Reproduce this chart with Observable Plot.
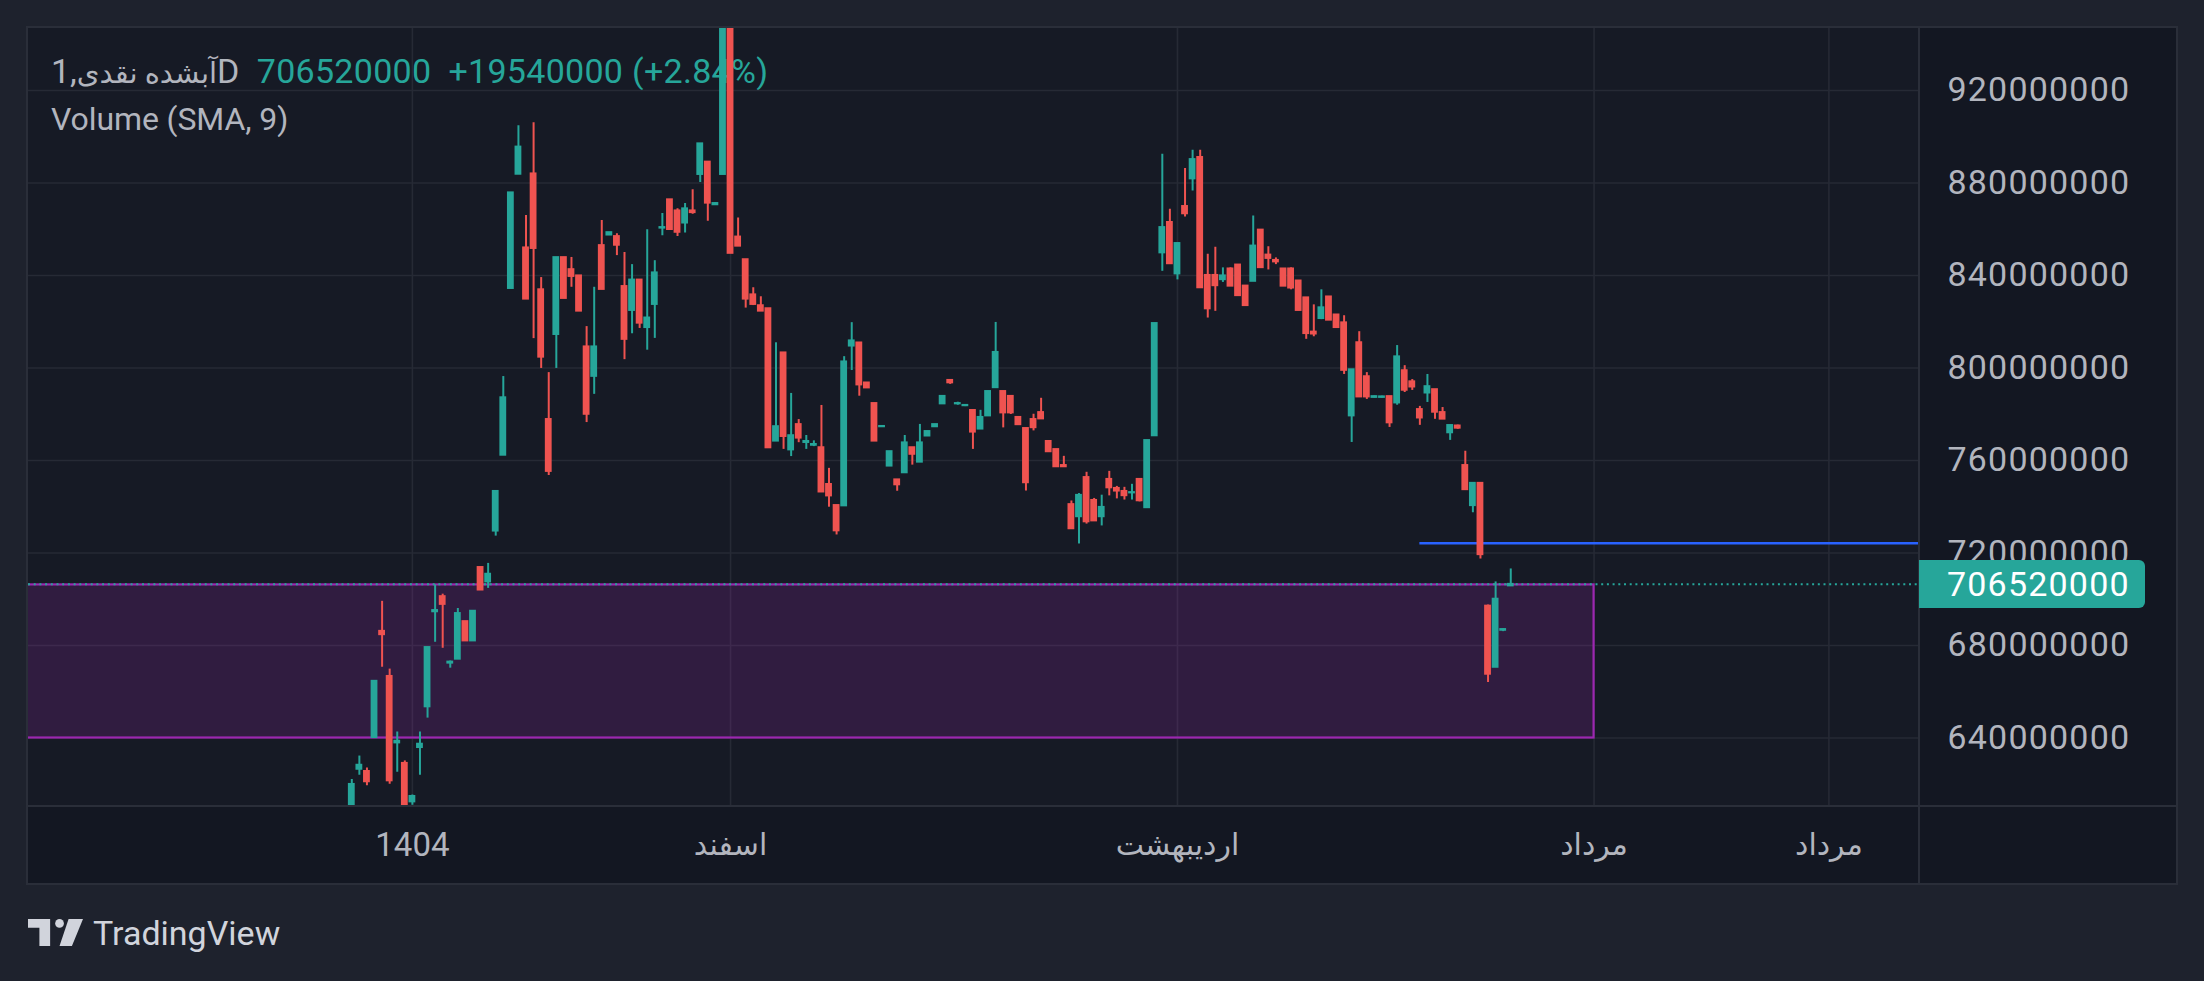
<!DOCTYPE html>
<html>
<head>
<meta charset="utf-8">
<script src="https://cdn.jsdelivr.net/npm/d3@7"></script>
<script src="https://cdn.jsdelivr.net/npm/@observablehq/plot@0.6"></script>
<style>
  html, body { margin:0; padding:0; width:2204px; height:981px; overflow:hidden; background:#1e222d; font-family: Roboto, "DejaVu Sans", sans-serif; }
  #chart { position:absolute; left:28px; top:28px; width:2148px; height:855px; background:#131722; outline:2px solid #2a2e39; }
  #plotbg { position:absolute; left:0; top:0; width:1891px; height:777.5px; background:#161a25; }
  .hdr { position:absolute; left:23px; font-size:34px; line-height:34px; white-space:nowrap; color:#b2b5be; letter-spacing:0.3px; }
  .fa { font-size:29px; letter-spacing:0; }
  .teal { color:#26a69a; }
  #chart svg { position:absolute; left:0; top:0; overflow:visible; }
  #chart svg g[aria-label="y-axis tick label"] text { letter-spacing:1.2px; }
  .sep { position:absolute; background:#2a2e39; }
  #pricelabel { position:absolute; left:1891px; width:226px; height:48px; line-height:48px; background:#26a69a; color:#ffffff; font-size:34px; letter-spacing:1.2px; padding-left:28px; box-sizing:border-box; border-radius:0 6px 6px 0; }
  #logo { position:absolute; left:28px; top:915px; height:34px; display:flex; align-items:center; color:#d1d4dc; font-size:34px; }
</style>
</head>
<body>
<div id="chart">
  <div id="plotbg"></div>
  <div class="hdr" style="top:26px"><bdi dir="rtl"><span class="fa">آبشده نقدی</span>,1</bdi>D<span class="teal" style="margin-left:17px">706520000</span><span class="teal" style="margin-left:17px">+19540000 (+2.84%)</span></div>
  <div class="hdr" style="top:74px;font-size:32px;letter-spacing:-0.1px">Volume (SMA, 9)</div>
</div>
<div id="logo">
  <svg width="55" height="27" viewBox="0 0 164 80" style="margin-right:10px"><path fill="#d1d4dc" d="M0 0H66V80H34V26H0Z"/><circle fill="#d1d4dc" cx="94" cy="13" r="13"/><path fill="#d1d4dc" d="M121 0H164L131 80H94Z"/></svg>
  <span style="position:relative;top:1px">TradingView</span>
</div>
<script>
// ---- data (values in millions) ----
const opens = [605,626.4,625.6,640.1,686.2,666.7,637.8,629.1,612.3,635.8,
653.4,694.5,701.2,672.3,674.0,690.4,681.9,713.8,707.4,729.4,
762.2,834.3,883.7,852.0,884.0,833.9,777.8,814.4,847.8,842.6,
839.9,809.2,796.3,853.0,857.4,856.9,835.3,824.8,838.1,817.4,
827.4,860.4,872.8,868.0,862.6,868.0,883.6,889.1,870.5,883.6,
950,856.7,846.9,831.7,827.0,825.7,768.3,806.6,764.5,775.6,
767.7,766.5,765.6,749.7,740.6,740.3,809.4,810.9,793.6,784.7,
774.5,757.5,751.7,754.6,765.6,759.2,770.5,774.5,784.4,794.7,
784.4,783.6,781.7,773.5,779.2,791.4,789.9,787.8,778.7,773.9,
777.8,780.8,768.3,764.8,757.9,741.0,735.6,752.7,742.8,735.6,
751.9,748.0,746.7,745.9,751.9,739.5,770.6,849.7,863.0,840.6,
869.9,881.7,891.1,840.1,840.1,838.1,842.9,844.6,835.5,837.4,
859.7,848.9,846.6,842.9,842.9,837.7,830.4,815.6,821.3,830.8,
823.0,819.6,779.2,811.0,796.3,787.2,787.2,787.7,784.8,798.9,
794.1,782.1,789.1,790.7,780.8,771.9,775.0,757.9,740.4,750.2,
697.1,670.5,686.5,705.7];
const highs = [622.1,632.2,627.0,664.6,699.1,669.8,642.6,630.1,615.4,642.6,
679.2,706.2,702.2,673.3,696.0,690.4,694.9,713.8,715.5,746.7,
796.3,875.8,904.7,865.9,906.0,839.1,798.0,847.8,847.8,847.8,
839.9,817.9,834.9,863.8,858.6,858.0,849.9,844.7,838.1,859.8,
846.4,866.8,872.8,868.9,871.1,877.1,897.0,889.1,871.5,955,
955,864.9,846.9,834.7,830.8,825.7,810.9,806.6,789.0,777.7,
770.8,768.5,783.8,756.6,740.6,804.9,819.6,810.9,793.6,784.7,
775.0,763.9,751.7,770.8,765.6,775.6,772.6,775.6,787.8,794.7,
785.2,784.2,781.7,781.7,789.9,819.7,789.9,787.8,778.7,773.9,
780.0,786.9,768.3,764.8,761.8,742.5,745.7,754.9,743.6,745.0,
755.3,748.8,748.4,749.7,751.9,768.7,819.3,892.4,868.6,853.9,
886.3,894.1,894.1,849.2,852.2,843.3,843.3,844.6,835.5,865.7,
859.7,852.4,847.6,842.9,843.3,837.7,830.4,827.3,833.8,830.8,
823.0,822.6,799.3,815.7,798.0,787.9,787.8,787.7,809.7,801.0,
795.0,783.4,797.2,790.7,782.9,775.2,775.3,764.0,750.2,750.2,
697.5,707.5,687.2,713.1];
const lows = [600,623.9,619.4,640.1,670.6,620.0,625.2,600,610.9,623.9,
648.6,681.4,678.8,670.2,674.0,681.9,681.9,703.9,704.7,727.3,
762.2,834.3,883.7,829.7,812.7,799.8,753.5,799.8,830.0,834.9,
824.5,776.4,788.6,833.9,857.4,848.6,803.6,814.8,817.1,807.7,
812.8,857.2,859.4,856.9,858.4,866.5,880.2,863.4,870.3,883.6,
849.5,852.6,825.9,827.0,824.5,765.4,768.3,764.8,761.7,767.7,
764.8,766.0,746.3,739.8,727.8,740.3,798.9,787.8,791.3,768.3,
774.3,757.5,746.7,754.6,758.0,759.2,770.5,774.5,784.4,792.9,
783.9,783.3,764.8,773.5,779.2,791.4,774.1,779.9,775.4,746.8,
772.8,777.9,763.7,757.2,757.2,730.4,723.9,732.5,733.8,731.7,
744.7,743.4,742.9,742.9,742.1,739.5,770.6,841.8,845.0,838.1,
865.3,876.5,834.6,821.6,824.5,837.0,835.3,831.2,826.9,837.4,
843.3,842.4,844.7,835.3,833.8,824.8,812.4,813.5,820.9,820.6,
817.4,797.2,767.8,787.4,786.4,787.0,787.0,774.3,783.9,789.4,
790.3,775.2,785.1,777.8,777.8,768.7,773.5,747.3,737.4,717.4,
664.0,670.5,686.0,705.5];
const closes = [620.0,628.3,621.0,664.6,684.6,621.4,638.7,605,614.8,637.4,
679.2,695.2,697.7,672.9,693.9,681.9,694.9,703.9,710.9,746.7,
787.2,875.8,895.6,829.7,851.6,804.6,755.2,847.8,830.0,839.5,
824.5,779.9,809.2,833.9,858.6,853.0,812.3,838.1,819.3,821.7,
841.2,860.8,859.8,858.6,868.9,867.1,897.0,871.2,871.2,950,
849.5,852.6,829.7,827.4,824.5,765.4,774.7,770.3,770.8,769.6,
768.3,767.0,746.3,744.6,729.5,802.7,811.8,792.6,791.3,768.3,
774.8,763.9,749.4,767.7,762.6,767.7,772.6,775.6,787.8,793.5,
784.7,783.9,772.2,778.7,789.9,806.8,780.5,780.5,775.4,750.3,
774.1,777.9,763.7,757.2,757.2,730.4,745.0,733.4,733.8,739.8,
748.1,746.7,744.7,746.2,742.5,768.7,819.3,860.8,845.0,853.9,
866.6,890.2,834.6,825.5,835.5,839.9,835.3,831.2,826.9,852.8,
843.3,847.3,845.8,835.3,834.5,824.8,814.8,814.6,826.1,820.6,
817.4,798.9,799.3,787.4,787.4,787.7,787.6,776.2,804.9,790.3,
791.7,778.3,792.0,780.8,777.8,775.2,773.9,747.3,750.2,719.2,
667.5,700.1,686.98,706.52];

const yTickValues = [640, 680, 720, 760, 800, 840, 880, 920];
const yTickLabels = ["640000000","680000000","720000000","760000000","800000000","840000000","880000000","920000000"];
const xTickValues = [8, 50, 109, 164, 195];
const xTickLabels = ["1404", "اسفند", "اردیبهشت", "مرداد", "مرداد"];
const xDomain = [-42.68, 206.96];
const yDomain = [610.6, 946.8];
const zoneX = [-60, 164];
const zoneY = [640, 706.2];
const blueLevel = [724.2];
const blueX = [141, 230];
const lastPrice = [706.52];
const lastPriceLabel = "706520000";

// ---- build ----
const M = 1e6;
const UP = "#26a69a", DOWN = "#ef5350";
const candles = opens.map((o, i) => ({i, o: o*M, h: highs[i]*M, l: lows[i]*M, c: closes[i]*M, col: closes[i] >= o ? UP : DOWN}));
const xTickObjs = xTickValues.map((v, k) => ({v, label: xTickLabels[k], latin: /^[0-9]+$/.test(xTickLabels[k])}));
const latinTicks = xTickObjs.filter(t => t.latin);
const persianTicks = xTickObjs.filter(t => !t.latin);

const plot = Plot.plot({
  width: 2148,
  height: 855,
  marginLeft: 0,
  marginTop: 0,
  marginRight: 257,
  marginBottom: 77.5,
  style: {background: "transparent", fontFamily: "Roboto, 'DejaVu Sans', sans-serif", overflow: "visible"},
  x: {type: "linear", domain: xDomain, label: null},
  y: {domain: yDomain.map(v => v*M), label: null},
  color: {type: "identity"},
  marks: [
    Plot.gridY(yTickValues.map(v => v*M), {stroke: "#262a35", strokeOpacity: 1, strokeWidth: 1.6}),
    Plot.gridX(xTickValues, {stroke: "#262a35", strokeOpacity: 1, strokeWidth: 1.6}),
    Plot.rect([0], {x1: () => zoneX[0], x2: () => zoneX[1], y1: () => zoneY[0]*M, y2: () => zoneY[1]*M,
      fill: "#9c27b0", fillOpacity: 0.2, stroke: "#9c27b0", strokeWidth: 2.2, clip: true}),
    Plot.ruleY(lastPrice.map(v => v*M), {stroke: UP, strokeWidth: 2, strokeDasharray: "2 3.7", clip: true}),
    Plot.ruleY(blueLevel.map(v => v*M), {x1: blueX[0], x2: blueX[1], stroke: "#2962ff", strokeWidth: 2.5, clip: true}),
    Plot.ruleX(candles, {x: "i", y1: "l", y2: "h", stroke: "col", strokeWidth: 2, clip: true}),
    Plot.rect(candles, {x1: d => d.i - 0.45, x2: d => d.i + 0.45, y1: "o", y2: "c", fill: "col",
      insetTop: -0.8, insetBottom: -0.8, clip: true}),
    Plot.axisY(yTickValues.map(v => v*M), {anchor: "right", tickSize: 0, tickPadding: 28, label: null,
      tickFormat: (d, i) => yTickLabels[i], fontSize: 34, fill: "#b2b5be"}),
    Plot.axisX(latinTicks.map(t => t.v), {anchor: "bottom", tickSize: 0, tickPadding: 27, label: null,
      tickFormat: (d, i) => latinTicks[i].label, fontSize: 33, fill: "#b2b5be"}),
    Plot.axisX(persianTicks.map(t => t.v), {anchor: "bottom", tickSize: 0, tickPadding: 28, label: null,
      tickFormat: (d, i) => persianTicks[i].label, fontSize: 30, fill: "#b2b5be"})
  ]
});
const chart = document.getElementById("chart");
chart.appendChild(plot);

// separators
const vsep = document.createElement("div");
vsep.className = "sep";
Object.assign(vsep.style, {left: "1890px", top: "0px", width: "2px", height: "855px"});
chart.appendChild(vsep);
const hsep = document.createElement("div");
hsep.className = "sep";
Object.assign(hsep.style, {left: "0px", top: "776.5px", width: "2148px", height: "2px"});
chart.appendChild(hsep);

// last price label on the axis
const yPix = plot.scale("y").apply(lastPrice[0]*M);
const lab = document.createElement("div");
lab.id = "pricelabel";
lab.textContent = lastPriceLabel;
lab.style.top = (yPix - 24) + "px";
chart.appendChild(lab);
</script>
</body>
</html>
